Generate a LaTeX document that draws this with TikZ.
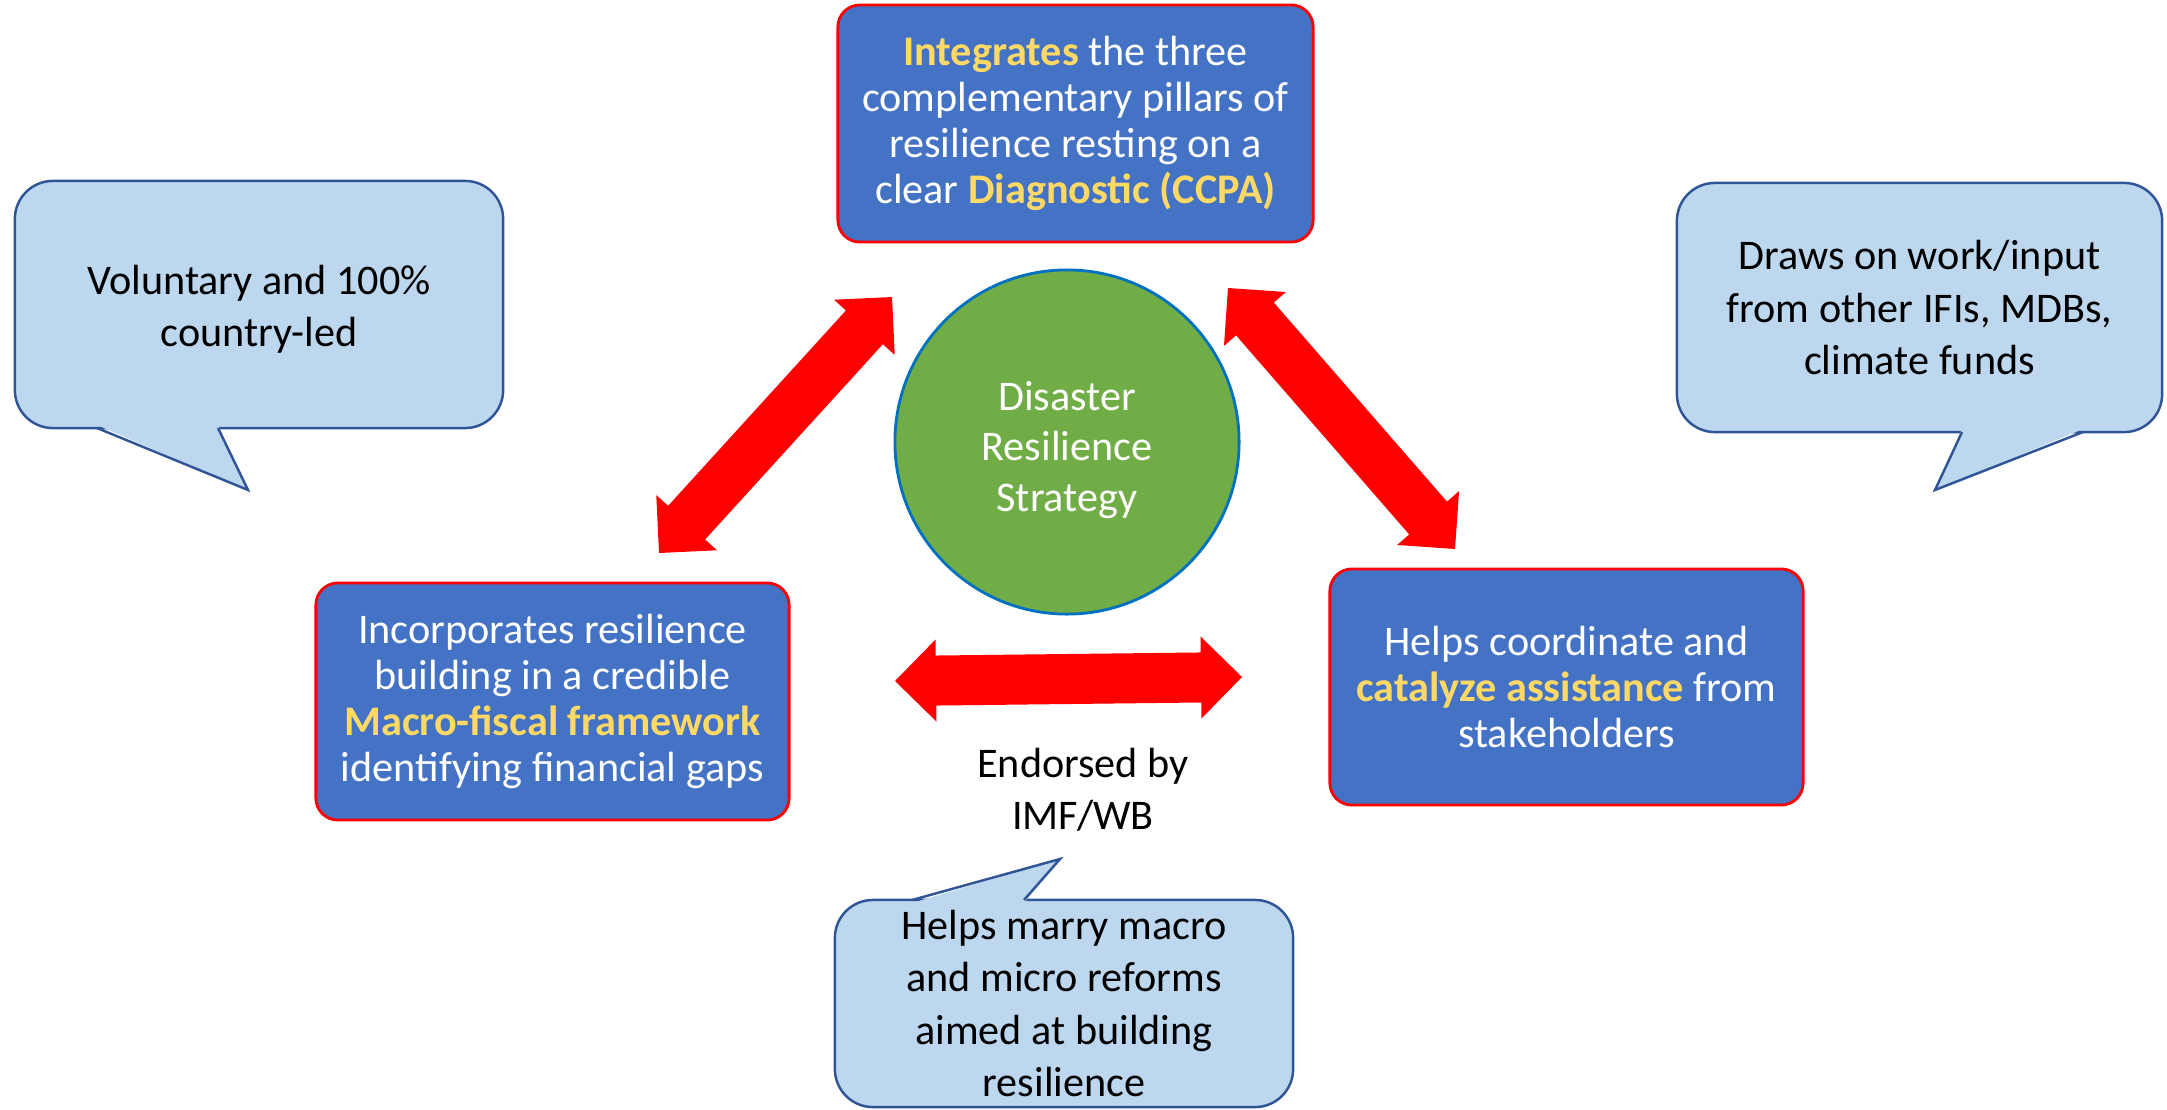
\documentclass[tikz,border=0pt]{standalone}
\usepackage{fontspec}
\setmainfont{Carlito}
\usepackage{tikz}
\usetikzlibrary{calc,positioning}

\definecolor{boxblue}{HTML}{4472C4}
\definecolor{boxred}{HTML}{FF0000}
\definecolor{keyyellow}{HTML}{FFD966}
\definecolor{calloutfill}{HTML}{BDD7EE}
\definecolor{calloutline}{HTML}{2F5597}
\definecolor{hubgreen}{HTML}{70AD47}
\definecolor{hubline}{HTML}{0070C0}
\definecolor{arrowred}{HTML}{FF0000}

\newcommand{\pillarkey}[1]{\textcolor{keyyellow}{\textbf{#1}}}
% double-headed block arrow from tip #1 to tip #2
\newcommand{\fatarrow}[2]{%
  \fill[arrowred] (#1)
    -- ($(#1)!0.41cm!(#2)!0.41cm!90:(#2)$)
    -- ($(#1)!0.41cm!(#2)!0.25cm!90:(#2)$)
    -- ($(#2)!0.41cm!(#1)!0.25cm!-90:(#1)$)
    -- ($(#2)!0.41cm!(#1)!0.41cm!-90:(#1)$)
    -- (#2)
    -- ($(#2)!0.41cm!(#1)!0.41cm!90:(#1)$)
    -- ($(#2)!0.41cm!(#1)!0.25cm!90:(#1)$)
    -- ($(#1)!0.41cm!(#2)!0.25cm!-90:(#2)$)
    -- ($(#1)!0.41cm!(#2)!0.41cm!-90:(#2)$)
    -- cycle;}

\begin{document}
\begin{tikzpicture}[
    x=0.01cm, y=-0.01cm,
    pillar/.style={draw=boxred, line width=0.8pt, fill=boxblue, rounded corners=0.22cm, text=white, align=center, inner sep=0pt, minimum width=4.73cm, minimum height=2.37cm, font=\fontsize{12}{13.1}\selectfont},
    callout/.style={draw=calloutline, line width=0.7pt, fill=calloutfill, rounded corners=0.38cm, align=center, inner sep=0pt, font=\fontsize{12}{14.8}\selectfont},
    tail/.style={draw=calloutline, line width=0.7pt, line join=miter},
    hub/.style={circle, draw=hubline, line width=0.8pt, fill=hubgreen, minimum size=3.44cm, inner sep=0pt},
    hubtext/.style={text=white, align=center, inner sep=0pt, yshift=-0.08cm, font=\fontsize{12}{14.4}\selectfont}
]
\useasboundingbox (0,0) rectangle (2167,1109);

% Central strategy
\node[hub, label={[hubtext]center:Disaster\\Resilience\\Strategy}] (strategy) at (1067,442) {};

% Pillar boxes
\node[pillar, minimum width=4.75cm] (integrates) at (1075.5,123.5)
  {\pillarkey{Integrates} the three\\complementary pillars of\\resilience resting on a\\clear \pillarkey{Diagnostic (CCPA)}};
\node[pillar] (macro) at (552.5,701.5)
  {Incorporates resilience\\building in a credible\\\pillarkey{Macro-fiscal framework}\\identifying financial gaps};
\node[pillar, minimum height=2.36cm] (catalyze) at (1566.5,687)
  {Helps coordinate and\\\pillarkey{catalyze assistance} from\\stakeholders};

% Arrow tips
\coordinate (la) at (659,553);
\coordinate (lb) at (892,297);
\coordinate (ra) at (1228,288);
\coordinate (rb) at (1455,549);
\coordinate (ha) at (895,681);
\coordinate (hb) at (1242,677);

% Block arrows
\fatarrow{la}{lb}
\fatarrow{ra}{rb}
\fatarrow{ha}{hb}

\node[font=\fontsize{12}{14.8}\selectfont, align=center] (endorsed) at (1083,790) {Endorsed by\\IMF/WB};

% Speech bubbles
\node[callout, minimum width=4.88cm, minimum height=2.47cm,
      label={[align=center, inner sep=0pt, yshift=-0.05cm, font=\fontsize{12}{14.8}\selectfont]center:Voluntary and 100\%\\country-led}] (voluntary) at (259,304.5) {};
\fill[calloutfill] (97,425) -- (248,490) -- (218,425) -- cycle;
\draw[tail] (97,428) -- (248,490) -- (218,428);

\node[callout, minimum width=4.85cm, minimum height=2.49cm] (draws) at (1919.5,307.5)
  {Draws on work/input\\from other IFIs, MDBs,\\climate funds};
\fill[calloutfill] (1962,429) -- (1935,490) -- (2083,429) -- cycle;
\draw[tail] (1962,432) -- (1935,490) -- (2083,432);

\node[callout, minimum width=4.58cm, minimum height=2.07cm] (marry) at (1064,1003.5)
  {Helps marry macro\\and micro reforms\\aimed at building\\resilience};
\fill[calloutfill] (912,903) -- (1060,859) -- (1024,903) -- cycle;
\draw[tail] (912,900) -- (1060,859) -- (1024,900);

\end{tikzpicture}
\end{document}
